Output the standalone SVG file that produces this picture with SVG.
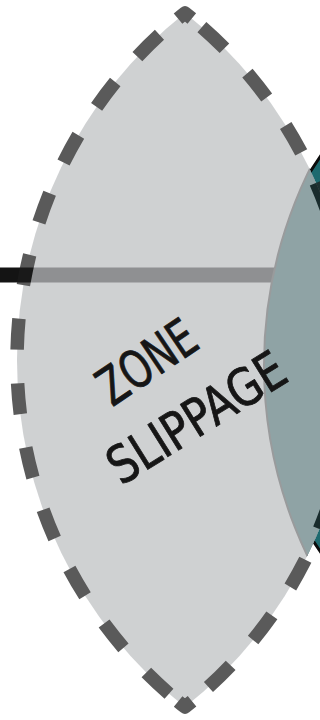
<svg xmlns="http://www.w3.org/2000/svg" width="320" height="720" viewBox="0 0 320 720">
  <style>
    .lensfill { fill: #bec0c2; stroke: #1c1c1c; stroke-width: 13.5; stroke-linejoin: round;
      stroke-dasharray: 9 24.65 31 33.75 31 33.75 31 33.75 31 33.75 31 33.75 31 33.75 31 33.75 31 33.75 31 33.75 31 33.75 31 33.75 31 11.9 18 21.75 31 33.9 31 33.9 31 33.9 31 33.9 31 33.9 31 33.9 31 33.9 31 33.9 31 33.9 31 33.9 31 33.9 31 13.15 9; }
    .label { font-family: "Liberation Sans Narrow", "DejaVu Sans Condensed", "Liberation Sans", sans-serif; font-size: 52px; fill: #161616; stroke: #161616; stroke-width: 0.8; stroke-linejoin: round; }
  </style>
  <defs>
    <clipPath id="inLens">
      <path d="M185,13 A442.36,442.36 0 0 0 185,707 A442.36,442.36 0 0 0 185,13 Z"/>
    </clipPath>
    <clipPath id="outLens">
      <path clip-rule="evenodd" d="M-10,-10 H330 V730 H-10 Z M185,13 A442.36,442.36 0 0 0 185,707 A442.36,442.36 0 0 0 185,13 Z"/>
    </clipPath>
  </defs>
  <g id="connectors">
    <line x1="-5" y1="275" x2="300" y2="275" stroke="#141414" stroke-width="15"/>
  </g>
  <g id="ring">
    <circle cx="602" cy="354" r="344" fill="#1d6a6f" stroke="#0c0c0c" stroke-width="3" clip-path="url(#outLens)"/>
    <circle cx="706" cy="365" r="442" fill="#13575b" stroke="#3a3a3a" stroke-width="2" clip-path="url(#inLens)"/>
  </g>
  <g id="zone">
    <g opacity="0.725">
      <path class="lensfill" d="M185,13 A442.36,442.36 0 0 0 185,707 A442.36,442.36 0 0 0 185,13 Z"/>
    </g>
    <text class="label" x="157" y="377" text-anchor="middle" textLength="108" lengthAdjust="spacingAndGlyphs" transform="rotate(-34 157 377)">ZONE</text>
    <text class="label" x="206" y="433" text-anchor="middle" textLength="200" lengthAdjust="spacingAndGlyphs" transform="rotate(-32 206 433)">SLIPPAGE</text>
  </g>
</svg>
